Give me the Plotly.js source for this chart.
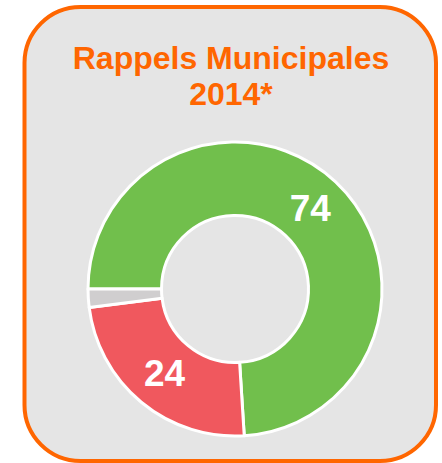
<!DOCTYPE html>
<html>
<head>
<meta charset="utf-8">
<script src="https://cdn.plot.ly/plotly-3.0.1.min.js"></script>
<style>
  html, body { margin: 0; padding: 0; background: #ffffff; }
  #chart { width: 442px; height: 463px; }
</style>
</head>
<body>
<div id="chart"></div>
<script>
// ---- Data ----
const categories = ["Oui", "Non", "Autre"];
const values = [74, 24, 2];
const sliceColors = ["#71bf4c", "#f0585e", "#d0cecf"];
const titleLines = ["Rappels Municipales", "2014*"];

// ---- Layout helpers (pixel -> paper) ----
const W = 442, H = 463;
const X = x => (x / W).toFixed(5);
const Y = y => (1 - y / H).toFixed(5);

function roundedRectPath(l, t, rr, b, r) {
  const k = 0.5523 * r;
  return `M ${X(l + r)},${Y(t)} L ${X(rr - r)},${Y(t)} ` +
    `C ${X(rr - r + k)},${Y(t)} ${X(rr)},${Y(t + r - k)} ${X(rr)},${Y(t + r)} ` +
    `L ${X(rr)},${Y(b - r)} ` +
    `C ${X(rr)},${Y(b - r + k)} ${X(rr - r + k)},${Y(b)} ${X(rr - r)},${Y(b)} ` +
    `L ${X(l + r)},${Y(b)} ` +
    `C ${X(l + r - k)},${Y(b)} ${X(l)},${Y(b - r + k)} ${X(l)},${Y(b - r)} ` +
    `L ${X(l)},${Y(t + r)} ` +
    `C ${X(l)},${Y(t + r - k)} ${X(l + r - k)},${Y(t)} ${X(l + r)},${Y(t)} Z`;
}

// donut geometry in pixels
const cx = 235, cy = 289, R = 147;

const trace = {
  type: "pie",
  labels: categories,
  values: values,
  text: values.map(v => (v >= 5 ? String(v) : "")),
  textinfo: "text",
  textposition: "inside",
  insidetextorientation: "horizontal",
  textfont: { family: "Liberation Sans, Arial, sans-serif", size: 37, color: "#ffffff", weight: "bold" },
  hole: 0.5,
  sort: false,
  direction: "clockwise",
  rotation: 270,
  marker: { colors: sliceColors, line: { color: "#ffffff", width: 3 } },
  domain: { x: [(cx - R) / W, (cx + R) / W], y: [1 - (cy + R) / H, 1 - (cy - R) / H] },
  hoverinfo: "none",
  showlegend: false
};

const layout = {
  width: W,
  height: H,
  margin: { l: 0, r: 0, t: 0, b: 0, pad: 0 },
  paper_bgcolor: "#ffffff",
  plot_bgcolor: "rgba(0,0,0,0)",
  showlegend: false,
  title: {
    text: titleLines.map(s => "<span style='font-size:32px'><b>" + s + "</b></span>").join("<br>"),
    font: { family: "Liberation Sans, Arial, sans-serif", size: 28, color: "#ff6600" },
    x: 231 / W,
    xanchor: "center",
    y: 1 - 68.5 / H,
    yanchor: "top",
    xref: "paper",
    yref: "paper"
  },
  shapes: [{
    type: "path",
    xref: "paper",
    yref: "paper",
    layer: "below",
    path: roundedRectPath(24.5, 7, 436, 461, 56),
    fillcolor: "#e5e5e5",
    line: { color: "#ff6600", width: 4 }
  }]
};

Plotly.newPlot("chart", [trace], layout, { staticPlot: true, displayModeBar: false });
</script>
</body>
</html>
